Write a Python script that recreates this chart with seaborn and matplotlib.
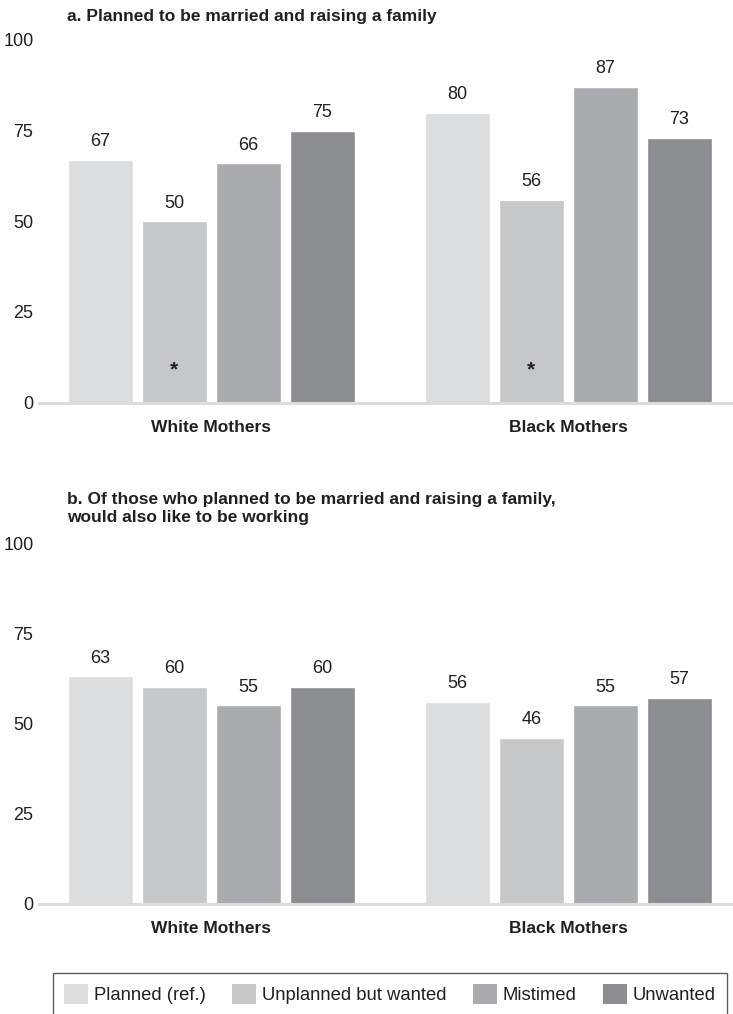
import matplotlib
matplotlib.use("Agg")
import matplotlib.pyplot as plt
import seaborn as sns
import pandas as pd

# ---- data ----
groups = ["White Mothers", "Black Mothers"]
statuses = ["Planned (ref.)", "Unplanned but wanted", "Mistimed", "Unwanted"]
panel_a_white = [67, 50, 66, 75]
panel_a_black = [80, 56, 87, 73]
panel_b_white = [63, 60, 55, 60]
panel_b_black = [56, 46, 55, 57]
# significance markers for panel a
panel_a_star_status = "Unplanned but wanted"
star_groups_a = ["White Mothers", "Black Mothers"]
yticks = [0, 25, 50, 75, 100]
title_a = "a. Planned to be married and raising a family"
title_b = "b. Of those who planned to be married and raising a family,\nwould also like to be working"

colors = ["#dcdddf", "#c6c7c9", "#aaabae", "#8c8d90"]
text_color = "#231f20"

sns.set_theme(style="white")
plt.rcParams["font.family"] = ["Liberation Sans", "DejaVu Sans"]


def make_df(white, black):
    rows = []
    for g, vals in zip(groups, [white, black]):
        for s, v in zip(statuses, vals):
            rows.append({"group": g, "status": s, "value": v})
    return pd.DataFrame(rows)


W, H = 733, 1014
fig = plt.figure(figsize=(W / 100, H / 100), dpi=100)

left = 39 / W
width = (733 - 39) / W
ax_a = fig.add_axes([left, 1 - 402.5 / H, width, (402.5 - 40) / H])
ax_b = fig.add_axes([left, 1 - 903.5 / H, width, (903.5 - 543) / H])

for ax, (wv, bv) in [(ax_a, (panel_a_white, panel_a_black)),
                     (ax_b, (panel_b_white, panel_b_black))]:
    df = make_df(wv, bv)
    sns.barplot(data=df, x="group", y="value", hue="status", order=groups,
                hue_order=statuses, palette=colors, width=0.83, gap=0.12,
                saturation=1, ax=ax, legend=False, errorbar=None)
    for cont in ax.containers:
        ax.bar_label(cont, fmt="%d", padding=7, fontsize=13, color=text_color)
    ax.set_ylim(0, 100)
    ax.set_xlim(-0.483, 1.461)
    ax.set_yticks(yticks)
    ax.set_xlabel("")
    ax.set_ylabel("")
    for sp in ["top", "left", "right"]:
        ax.spines[sp].set_visible(False)
    ax.spines["bottom"].set_color("#dcdcdc")
    ax.spines["bottom"].set_linewidth(2.2)
    ax.tick_params(axis="y", length=0, labelsize=13, pad=4, labelcolor=text_color)
    ax.tick_params(axis="x", length=0, labelsize=12.5, pad=12.5, labelcolor=text_color)
    for lab in ax.get_xticklabels():
        lab.set_fontweight("bold")
    ax.grid(False)

# asterisks in panel a
star_cont = ax_a.containers[statuses.index(panel_a_star_status)]
for patch, g in zip(star_cont.patches, groups):
    if g in star_groups_a:
        ax_a.text(patch.get_x() + patch.get_width() / 2, 9, "*", ha="center",
                  va="center", fontsize=15, fontweight="bold", color=text_color)

fig.text(67 / W, 1 - 16 / H, title_a, fontsize=12.5, fontweight="bold",
         color=text_color, ha="left", va="center")
fig.text(67 / W, 1 - 508.5 / H, title_b, fontsize=12.5, fontweight="bold",
         color=text_color, ha="left", va="center", linespacing=1.2)

handles = [plt.Rectangle((0, 0), 1, 1, facecolor=c, edgecolor="none") for c in colors]
leg = fig.legend(handles, statuses, loc="upper left",
                 bbox_to_anchor=(53 / W, 0, 674 / W, 1 - 973 / H),
                 mode="expand", ncol=4, fontsize=13.3, frameon=True,
                 fancybox=False, handlelength=1.3, handleheight=1.3,
                 handletextpad=0.3, borderpad=0.6, borderaxespad=0)
leg.get_frame().set_edgecolor("#333333")
leg.get_frame().set_linewidth(1.0)
for t in leg.get_texts():
    t.set_color(text_color)

fig.savefig("out.png", dpi=100)
